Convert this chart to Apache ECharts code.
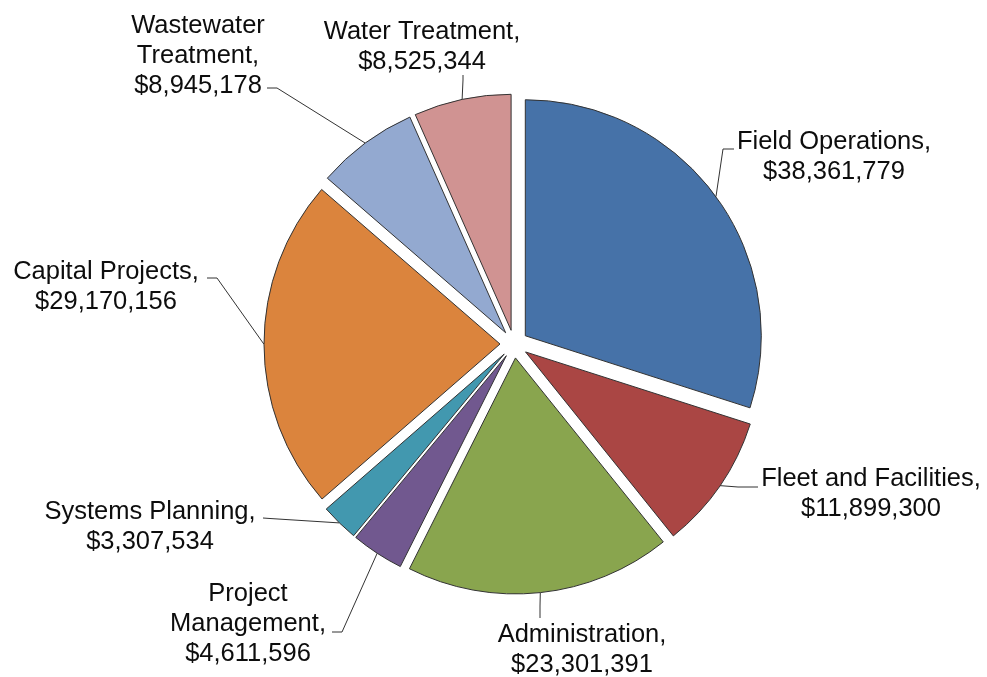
<!DOCTYPE html>
<html>
<head>
<meta charset="utf-8">
<script src="https://cdn.jsdelivr.net/npm/echarts@6/dist/echarts.min.js"></script>
<style>
  html, body { margin: 0; padding: 0; background: #ffffff; }
  #chart { width: 987px; height: 677px; }
</style>
</head>
<body>
<div id="chart"></div>
<script>
// Budget by division, in dollars (clockwise from 12 o'clock)
const divisions = [
  'Field Operations',
  'Fleet and Facilities',
  'Administration',
  'Project Management',
  'Systems Planning',
  'Capital Projects',
  'Wastewater Treatment',
  'Water Treatment'
];
const budgets = [38361779, 11899300, 23301391, 4611596, 3307534, 29170156, 8945178, 8525344];
const sliceColors = ['#4672A8', '#AA4644', '#89A54E', '#71588F', '#4298AF', '#DB843D', '#93A9D0', '#D09392'];

// How long names break across lines in their labels
const wrappedNames = {
  'Wastewater Treatment': 'Wastewater\nTreatment',
  'Project Management': 'Project\nManagement'
};

// Label placement: centre of the text block, then where the leader line
// meets the text and where it bends on its way to the slice.
const labelSpots = {
  'Field Operations':     { at: [834, 157], attach: [734, 149], bend: [723, 149] },
  'Fleet and Facilities': { at: [871, 494], attach: [758, 487], bend: [738, 487] },
  'Administration':       { at: [582, 650], attach: [540, 618], bend: [540, 606] },
  'Project Management':   { at: [248, 624], attach: [332, 632], bend: [342, 632] },
  'Systems Planning':     { at: [150, 527], attach: [263, 518], bend: [270, 518.5] },
  'Capital Projects':     { at: [106, 287], attach: [207, 278], bend: [217, 278] },
  'Wastewater Treatment': { at: [198, 56],  attach: [267, 88],  bend: [277, 88] },
  'Water Treatment':      { at: [422, 47],  attach: [463, 75],  bend: [463, 80] }
};

const PIE_CENTER = [514, 344];
const PIE_RADIUS = 236;
const EXPLODE = 14;

const fmtMoney = v => '$' + v.toLocaleString('en-US');

const pieData = divisions.map((name, i) => ({ name: name, value: budgets[i] }));

const chart = echarts.init(document.getElementById('chart'), null, { renderer: 'canvas' });

chart.setOption({
  animation: false,
  backgroundColor: '#ffffff',
  series: [
    {
      // Exploded slices
      type: 'pie',
      center: PIE_CENTER,
      radius: PIE_RADIUS,
      startAngle: 90,
      clockwise: true,
      silent: true,
      selectedMode: 'multiple',
      selectedOffset: EXPLODE,
      itemStyle: { borderColor: '#333333', borderWidth: 1 },
      select: { itemStyle: { borderColor: '#333333', borderWidth: 1 } },
      label: { show: false },
      labelLine: { show: false },
      data: pieData.map((d, i) => ({
        name: d.name,
        value: d.value,
        selected: true,
        itemStyle: { color: sliceColors[i] }
      }))
    },
    {
      // Same angles, reaching the exploded rim, carrying the labels
      type: 'pie',
      center: PIE_CENTER,
      radius: PIE_RADIUS + EXPLODE,
      startAngle: 90,
      clockwise: true,
      silent: true,
      avoidLabelOverlap: false,
      itemStyle: { color: 'rgba(0,0,0,0)', borderWidth: 0 },
      label: {
        show: true,
        position: 'outside',
        fontFamily: 'Liberation Sans, Arial, sans-serif',
        fontSize: 25.5,
        lineHeight: 30,
        color: '#0d0d0d',
        formatter: p => (wrappedNames[p.name] || p.name) + ',\n' + fmtMoney(p.value)
      },
      labelLine: {
        show: true,
        length: 10,
        length2: 10,
        lineStyle: { color: '#333333', width: 1 }
      },
      labelLayout: function (params) {
        const spot = labelSpots[divisions[params.dataIndex]];
        const out = { x: spot.at[0], y: spot.at[1], align: 'center', verticalAlign: 'middle' };
        if (params.labelLinePoints && params.labelLinePoints.length) {
          const rim = params.labelLinePoints[0];
          out.labelLinePoints = [[rim[0], rim[1]], spot.bend, spot.attach];
        }
        return out;
      },
      data: pieData
    }
  ]
});
</script>
</body>
</html>
